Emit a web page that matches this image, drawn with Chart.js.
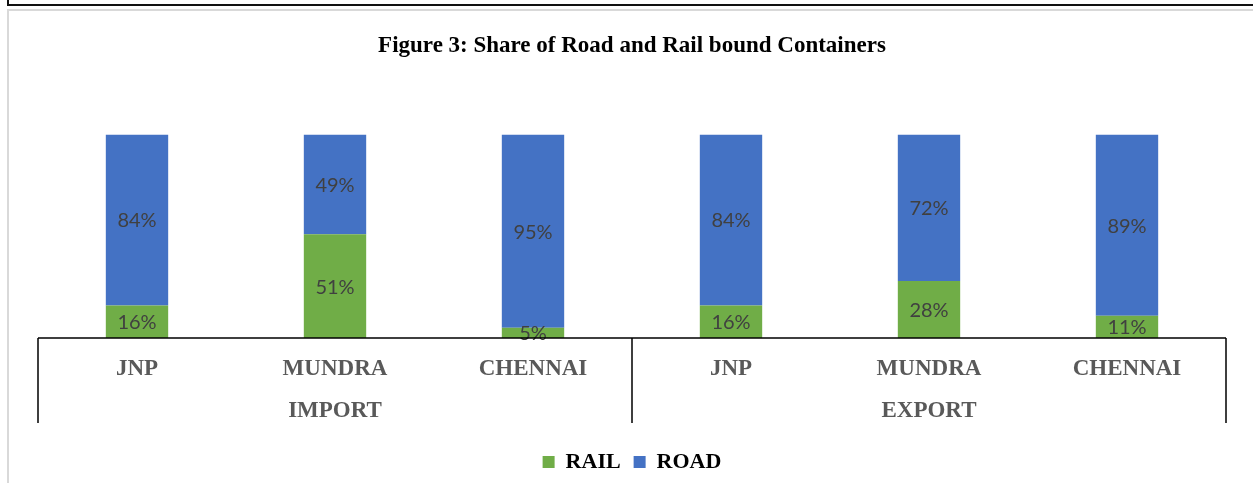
<!doctype html>
<html lang="en">
  <head>
    <meta charset="utf-8">
    <title>Share of Road and Rail bound Containers</title>
    <style>
      * {
        margin: 0;
        padding: 0;
      }
      body {
        width: 1253px;
        height: 483px;
        background: white;
        position: relative;
        overflow: hidden;
      }
      .topBox {
        position: absolute;
        left: 7px;
        top: -20px;
        width: 1300px;
        height: 22px;
        border: 2px solid #111;
      }
      .chartFrame {
        position: absolute;
        left: 7px;
        top: 9px;
        width: 1300px;
        height: 500px;
        border: 2px solid #d9d9d9;
      }
      .chartBox {
        position: absolute;
        left: 0;
        top: 0;
        width: 1253px;
        height: 483px;
      }
    </style>
  </head>
  <body>
    <div class="topBox"></div>
    <div class="chartFrame"></div>
    <div class="chartBox">
      <canvas id="myChart"></canvas>
    </div>
    <script src="https://cdn.jsdelivr.net/npm/chart.js"></script>
    <script>
    // data
    const categories = ['JNP', 'MUNDRA', 'CHENNAI', 'JNP', 'MUNDRA', 'CHENNAI'];
    const groups = ['IMPORT', 'EXPORT'];
    const railShare = [16, 51, 5, 16, 28, 11];
    const roadShare = [84, 49, 95, 84, 72, 89];

    const serif = '"Liberation Serif", "Times New Roman", serif';

    // two-line labels: category, and the group name under the middle one
    const labels = categories.map((c, i) => [c, i % 3 === 1 ? groups[Math.floor(i / 3)] : '']);

    // draws the % value centred in each segment
    const segmentLabels = {
      id: 'segmentLabels',
      afterDatasetsDraw(chart) {
        const ctx = chart.ctx;
        ctx.save();
        ctx.font = '20px Lato, "Open Sans", sans-serif';
        ctx.fillStyle = '#404040';
        ctx.textAlign = 'center';
        ctx.textBaseline = 'middle';
        chart.data.datasets.forEach((ds, di) => {
          chart.getDatasetMeta(di).data.forEach((bar, i) => {
            const mid = (bar.y + bar.base) / 2;
            ctx.fillText(ds.data[i] + '%', bar.x, mid + 1);
          });
        });
        ctx.restore();
      }
    };

    // axis line and the group separators below it
    const groupLines = {
      id: 'groupLines',
      afterDraw(chart) {
        const ctx = chart.ctx;
        const x = chart.scales.x;
        const area = chart.chartArea;
        const step = x.getPixelForValue(1) - x.getPixelForValue(0);
        const bottom = area.bottom + 85;
        ctx.save();
        ctx.strokeStyle = '#000';
        ctx.lineWidth = 1.5;
        ctx.beginPath();
        ctx.moveTo(area.left, area.bottom);
        ctx.lineTo(area.right, area.bottom);
        [0, 3, 6].forEach(i => {
          const px = x.getPixelForValue(0) - step / 2 + i * step;
          ctx.moveTo(px, area.bottom);
          ctx.lineTo(px, bottom);
        });
        ctx.stroke();
        ctx.restore();
      }
    };

    const data = {
      labels: labels,
      datasets: [{
        label: 'RAIL',
        data: railShare,
        backgroundColor: '#70AD47',
        barPercentage: 0.315,
        categoryPercentage: 1
      }, {
        label: 'ROAD',
        data: roadShare,
        backgroundColor: '#4472C4',
        barPercentage: 0.315,
        categoryPercentage: 1
      }]
    };

    const config = {
      type: 'bar',
      data,
      options: {
        responsive: true,
        maintainAspectRatio: false,
        animation: false,
        layout: {
          padding: { left: 38, right: 27, top: 0, bottom: 0 }
        },
        scales: {
          x: {
            stacked: true,
            grid: { display: false, drawTicks: false },
            border: { display: false },
            ticks: {
              color: '#595959',
              padding: 10,
              maxRotation: 0,
              autoSkip: false,
              font: { family: serif, size: 23, weight: 'bold', lineHeight: 1.83 }
            },
            afterFit(scale) { scale.height = 100; }
          },
          y: {
            stacked: true,
            display: false,
            min: 0,
            max: 100
          }
        },
        plugins: {
          title: {
            display: true,
            text: 'Figure 3: Share of Road and Rail bound Containers',
            color: '#000',
            font: { family: serif, size: 23, weight: 'bold', lineHeight: 1.2 },
            padding: { top: 32, bottom: 75 }
          },
          legend: {
            position: 'bottom',
            labels: {
              color: '#000',
              boxWidth: 12,
              boxHeight: 12,
              padding: 13,
              font: { family: serif, size: 22, weight: 'bold' }
            }
          },
          tooltip: { enabled: false }
        }
      },
      plugins: [segmentLabels, groupLines]
    };

    const myChart = new Chart(document.getElementById('myChart'), config);
    </script>
  </body>
</html>
